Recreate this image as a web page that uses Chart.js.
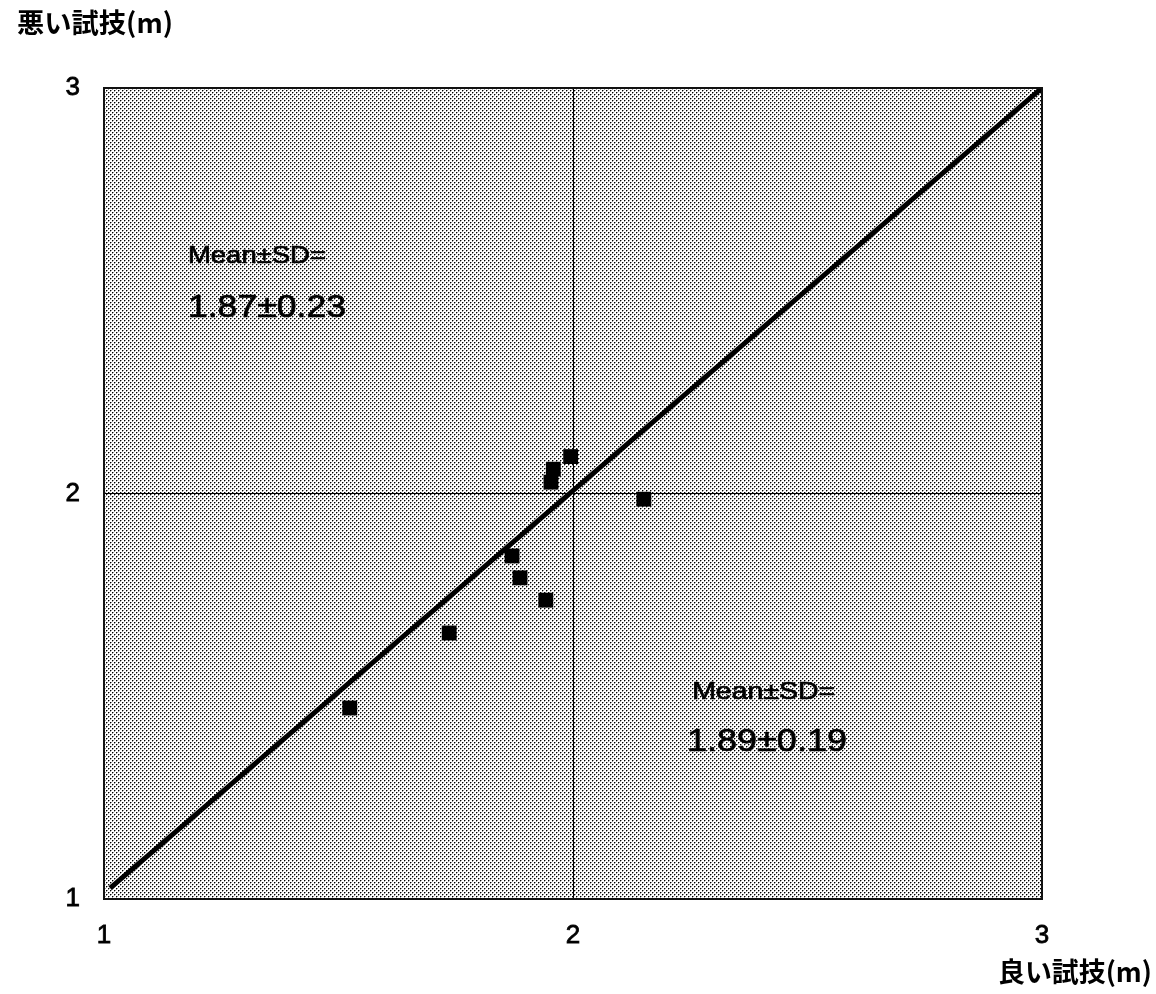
<!DOCTYPE html>
<html>
<head>
<meta charset="utf-8">
<script src="https://cdn.jsdelivr.net/npm/chart.js@4/dist/chart.umd.min.js"></script>
<style>
  html, body { margin: 0; padding: 0; background: #fff; }
  #wrap { width: 1156px; height: 994px; }
</style>
</head>
<body>
<div id="wrap"><canvas id="c" width="1156" height="994"></canvas></div>
<script>
// 良い試技 (x) vs 悪い試技 (y), metres
const goodTrial = [1.524, 1.736, 1.870, 1.887, 1.942, 1.995, 1.958, 1.953, 2.151];
const badTrial  = [1.471, 1.656, 1.846, 1.792, 1.737, 2.091, 2.060, 2.028, 1.986];

// identity reference line
const refLineX = [1.013, 3];
const refLineY = [1.027, 3];

const axisMin = 1, axisMax = 3;
const tickLabels = ['1', '2', '3'];

const xTitle = '良い試技(m)';
const yTitle = '悪い試技(m)';
const statsLabel = 'Mean±SD=';
const badStats = '1.87±0.23';
const goodStats = '1.89±0.19';

const points = goodTrial.map((x, i) => ({ x, y: badTrial[i] }));
const refLine = refLineX.map((x, i) => ({ x, y: refLineY[i] }));

// halftone dot fill for the plot area
function makeDotPattern(ctx) {
  const pc = document.createElement('canvas');
  pc.width = 4; pc.height = 4;
  const p = pc.getContext('2d');
  p.fillStyle = '#fff'; p.fillRect(0, 0, 4, 4);
  p.fillStyle = '#000';
  p.fillRect(0, 0, 1, 1); p.fillRect(2, 2, 1, 1);
  p.fillStyle = '#999';
  p.fillRect(1, 0, 1, 1); p.fillRect(3, 2, 1, 1);
  p.fillRect(0, 1, 1, 1); p.fillRect(2, 3, 1, 1);
  return ctx.createPattern(pc, 'repeat');
}

const plotBackground = {
  id: 'plotBackground',
  beforeDraw(chart) {
    const { ctx, chartArea: a } = chart;
    ctx.save();
    ctx.fillStyle = makeDotPattern(ctx);
    ctx.fillRect(a.left, a.top, a.right - a.left, a.bottom - a.top);
    ctx.restore();
  },
  afterDatasetsDraw(chart) {
    const { ctx, chartArea: a } = chart;
    ctx.save();
    ctx.strokeStyle = '#111';
    ctx.lineWidth = 2;
    ctx.strokeRect(a.left, a.top, a.right - a.left, a.bottom - a.top);
    ctx.restore();
  }
};

function fitText(ctx, text, x, y, font, width, stroke) {
  ctx.save();
  ctx.font = font;
  const w = ctx.measureText(text).width;
  ctx.translate(x, y);
  ctx.scale(width / w, 1);
  ctx.fillText(text, 0, 0);
  if (stroke) {
    ctx.lineWidth = stroke;
    ctx.strokeStyle = '#000';
    ctx.strokeText(text, 0, 0);
  }
  ctx.restore();
}

const labelsPlugin = {
  id: 'labelsPlugin',
  afterDraw(chart) {
    const { ctx } = chart;
    const xs = chart.scales.x, ys = chart.scales.y;
    ctx.save();
    ctx.fillStyle = '#000';
    ctx.textBaseline = 'middle';
    ctx.textAlign = 'left';
    fitText(ctx, yTitle, 17, 23, 'bold 27px "Noto Sans CJK JP"', 156);
    fitText(ctx, xTitle, 998, 972, 'bold 27px "Noto Sans CJK JP"', 154);

    const sf = '24px "Liberation Sans", Arial, sans-serif';
    const nf = '31px "Liberation Sans", Arial, sans-serif';
    fitText(ctx, statsLabel, xs.getPixelForValue(1.179), ys.getPixelForValue(2.586), sf, 138, 0.7);
    fitText(ctx, badStats, xs.getPixelForValue(1.179), ys.getPixelForValue(2.457), nf, 158, 0.7);
    fitText(ctx, statsLabel, xs.getPixelForValue(2.254), ys.getPixelForValue(1.510), sf, 143, 0.7);
    fitText(ctx, goodStats, xs.getPixelForValue(2.243), ys.getPixelForValue(1.387), nf, 160, 0.7);
    ctx.restore();
  }
};

const tickFont = { family: '"Liberation Sans", Arial, sans-serif', size: 26 };

new Chart(document.getElementById('c'), {
  type: 'scatter',
  data: {
    datasets: [
      {
        data: points,
        pointStyle: 'rect',
        pointRadius: 10.5,
        pointHoverRadius: 10.5,
        backgroundColor: '#000',
        borderColor: '#000',
        borderWidth: 0
      },
      {
        type: 'line',
        data: refLine,
        borderColor: '#000',
        borderWidth: 5,
        pointRadius: 0,
        fill: false,
        tension: 0
      }
    ]
  },
  options: {
    responsive: false,
    animation: false,
    events: [],
    layout: { padding: { top: 88, right: 114, left: 0, bottom: 0 } },
    plugins: { legend: { display: false }, tooltip: { enabled: false } },
    scales: {
      x: {
        type: 'linear',
        min: axisMin, max: axisMax,
        afterFit(s) { s.height = 95; },
        afterBuildTicks(s) { s.ticks = tickLabels.map(Number).map(v => ({ value: v })); },
        ticks: { stepSize: 1, color: '#000', font: tickFont, padding: 21,
                 textStrokeColor: '#000', textStrokeWidth: 0.8,
                 callback: (v) => tickLabels[v - axisMin] },
        grid: { drawTicks: false, lineWidth: 1,
                color: (c) => (c.tick && c.tick.value === 2 ? '#000' : 'rgba(0,0,0,0)') },
        border: { display: false }
      },
      y: {
        type: 'linear',
        min: axisMin, max: axisMax,
        afterFit(s) { s.width = 104; },
        afterBuildTicks(s) { s.ticks = tickLabels.map(Number).map(v => ({ value: v })); },
        ticks: { stepSize: 1, color: '#000', font: tickFont, padding: 24,
                 textStrokeColor: '#000', textStrokeWidth: 0.8,
                 callback: (v) => tickLabels[v - axisMin] },
        grid: { drawTicks: false, lineWidth: 1,
                color: (c) => (c.tick && c.tick.value === 2 ? '#000' : 'rgba(0,0,0,0)') },
        border: { display: false }
      }
    }
  },
  plugins: [plotBackground, labelsPlugin]
});
</script>
</body>
</html>
